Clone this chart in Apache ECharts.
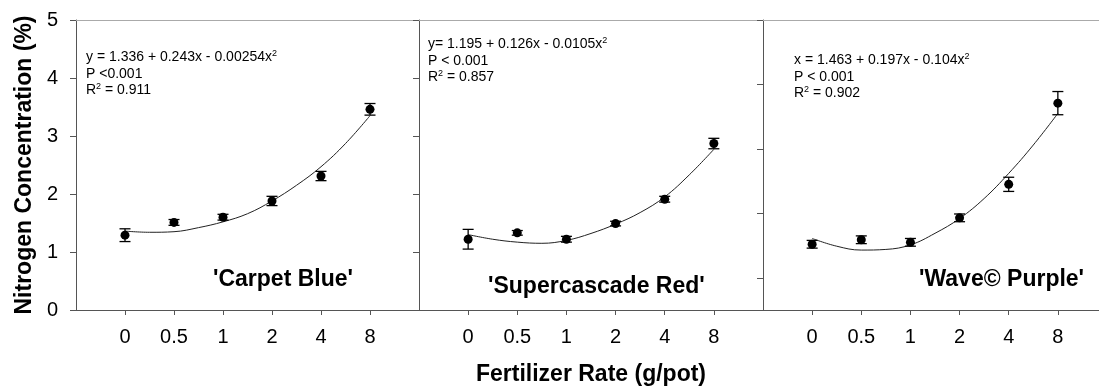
<!DOCTYPE html>
<html>
<head>
<meta charset="utf-8">
<script src="https://cdn.jsdelivr.net/npm/echarts@6/dist/echarts.min.js"></script>
<style>
  html, body { margin: 0; padding: 0; background: #fff; }
  #chart { width: 1099px; height: 388px; }
</style>
</head>
<body>
<div id="chart"></div>
<script>
var dom = document.getElementById('chart');
var myChart = echarts.init(dom);
var option;

// fertilizer rates (g/pot), drawn at evenly spaced positions 0..5
var rates = ['0', '0.5', '1', '2', '4', '8'];
var ratePos = [0, 1, 2, 3, 4, 5];
var fitSteps = [0, 0.5, 1, 1.5, 2, 2.5, 3, 3.5, 4, 4.5, 5];

var cultivars = ["'Carpet Blue'", "'Supercascade Red'", "'Wave\u00a9 Purple'"];

// 'Carpet Blue'
var meansBlue = [1.29, 1.51, 1.60, 1.88, 2.31, 3.46];
var errBlue = [0.11, 0.05, 0.05, 0.08, 0.08, 0.10];
var fitBlue = [1.36, 1.34, 1.35, 1.42, 1.52, 1.66, 1.88, 2.15, 2.47, 2.87, 3.35];

// 'Supercascade Red'
var meansRed = [1.22, 1.33, 1.22, 1.49, 1.91, 2.87];
var errRed = [0.17, 0.04, 0.05, 0.04, 0.05, 0.09];
var fitRed = [1.30, 1.22, 1.17, 1.15, 1.20, 1.32, 1.48, 1.68, 1.95, 2.33, 2.77];

// 'Wave Purple'
var meansPurple = [1.52, 1.59, 1.55, 1.93, 2.45, 3.71];
var errPurple = [0.06, 0.06, 0.06, 0.06, 0.11, 0.18];
var fitPurple = [1.61, 1.49, 1.43, 1.44, 1.51, 1.69, 1.92, 2.23, 2.62, 3.06, 3.55];

var equations = [
    'y = 1.336 + 0.243x - 0.00254x{sup|2}\nP <0.001\nR{sup|2} = 0.911',
    'y= 1.195 + 0.126x - 0.0105x{sup|2}\nP < 0.001\nR{sup|2} = 0.857',
    'x = 1.463 + 0.197x - 0.104x{sup|2}\nP < 0.001\nR{sup|2} = 0.902'
];

var FONT = '"Liberation Sans", Arial, sans-serif';
var panels = [
    {means: meansBlue, err: errBlue, fit: fitBlue, yMin: 0},
    {means: meansRed, err: errRed, fit: fitRed, yMin: 0},
    {means: meansPurple, err: errPurple, fit: fitPurple, yMin: 0.5}
];

function errorBar(params, api) {
    var x = api.value(0);
    var lo = api.coord([x, api.value(1)]);
    var hi = api.coord([x, api.value(2)]);
    var w = 5.5;
    var st = {stroke: '#000', lineWidth: 1.3};
    return {
        type: 'group',
        children: [
            {type: 'line', shape: {x1: lo[0], y1: lo[1], x2: hi[0], y2: hi[1]}, style: st},
            {type: 'line', shape: {x1: lo[0] - w, y1: lo[1], x2: lo[0] + w, y2: lo[1]}, style: st},
            {type: 'line', shape: {x1: hi[0] - w, y1: hi[1], x2: hi[0] + w, y2: hi[1]}, style: st}
        ]
    };
}

var grids = [], xAxes = [], topAxes = [], yAxes = [], series = [];
var lefts = [76, 419, 763];
var widths = [343, 344, 344];

panels.forEach(function (p, g) {
    grids.push({left: lefts[g], top: 20, width: widths[g], height: 290, outerBoundsMode: 'none', containLabel: false});
    xAxes.push({
        gridIndex: g,
        type: 'value',
        min: -1,
        max: 6,
        interval: 1,
        name: g === 1 ? 'Fertilizer Rate (g/pot)' : '',
        nameLocation: 'middle',
        nameGap: 53,
        nameTextStyle: {fontSize: 23, fontWeight: 'bold', color: '#000', fontFamily: FONT},
        axisLine: {onZero: false, lineStyle: {color: '#555', width: 1}},
        axisTick: {customValues: ratePos, length: 5, lineStyle: {color: '#555'}},
        axisLabel: {
            customValues: ratePos,
            formatter: function (v) { return rates[v]; },
            fontSize: 20, color: '#000', margin: 17, fontFamily: FONT
        },
        splitLine: {show: false}
    });
    topAxes.push({
        gridIndex: g,
        type: 'value',
        position: 'top',
        min: -1,
        max: 6,
        axisLine: {show: true, onZero: false, lineStyle: {color: '#aaa', width: 1}},
        axisTick: {show: false},
        axisLabel: {show: false},
        splitLine: {show: false}
    });
    var ya = {
        gridIndex: g,
        type: 'value',
        min: p.yMin,
        max: 5,
        axisLine: {show: true, onZero: false, lineStyle: {color: '#555', width: 1}},
        axisTick: {show: true, length: 6, lineStyle: {color: '#555'}},
        axisLabel: {show: g === 0, fontSize: 20, color: '#000', margin: 18, fontFamily: FONT},
        splitLine: {show: false}
    };
    if (p.yMin === 0) ya.interval = 1;
    if (g === 0) {
        ya.name = 'Nitrogen Concentration (%)';
        ya.nameLocation = 'middle';
        ya.nameGap = 40;
        ya.nameTextStyle = {fontSize: 23, fontWeight: 'bold', color: '#000', fontFamily: FONT};
    }
    yAxes.push(ya);

    series.push({
        type: 'line',
        xAxisIndex: g,
        yAxisIndex: g,
        smooth: 0.4,
        showSymbol: false,
        silent: true,
        lineStyle: {color: '#222', width: 1},
        data: fitSteps.map(function (s, i) { return [s, p.fit[i]]; }),
        z: 2
    });
    series.push({
        type: 'custom',
        xAxisIndex: g,
        yAxisIndex: g,
        renderItem: errorBar,
        data: p.means.map(function (m, i) { return [ratePos[i], m - p.err[i], m + p.err[i]]; }),
        z: 3
    });
    series.push({
        type: 'scatter',
        xAxisIndex: g,
        yAxisIndex: g,
        symbolSize: 9,
        itemStyle: {color: '#000', opacity: 1},
        data: p.means.map(function (m, i) { return [ratePos[i], m]; }),
        z: 4
    });
});

var eqPos = [[86, 49], [428, 36], [794, 52]];
var namePos = [[213, 268], [488, 275], [919, 268]];
var titles = [];
equations.forEach(function (t, g) {
    titles.push({
        text: t,
        left: eqPos[g][0],
        top: eqPos[g][1],
        padding: 0,
        textStyle: {
            fontSize: 14, fontWeight: 'normal', color: '#000', lineHeight: 16.5, fontFamily: FONT,
            rich: {sup: {fontSize: 9, verticalAlign: 'top', lineHeight: 16.5, color: '#000', fontFamily: FONT}}
        }
    });
});
cultivars.forEach(function (c, g) {
    titles.push({
        text: c,
        left: namePos[g][0],
        top: namePos[g][1],
        padding: 0,
        textStyle: {fontSize: 23, fontWeight: 'bold', color: '#000', lineHeight: 23, fontFamily: FONT}
    });
});

option = {
    backgroundColor: '#fff',
    animation: false,
    title: titles,
    grid: grids,
    xAxis: xAxes.concat(topAxes),
    yAxis: yAxes,
    series: series
};

myChart.setOption(option);
</script>
</body>
</html>
